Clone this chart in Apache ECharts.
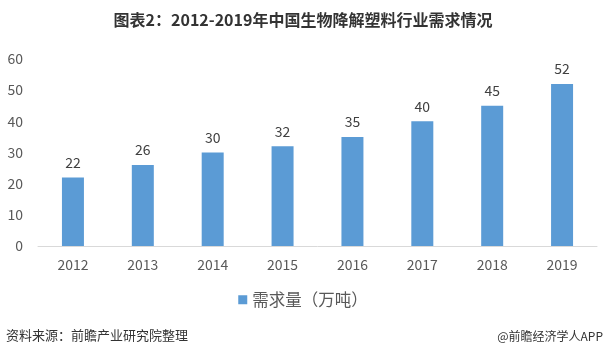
<!DOCTYPE html>
<html><head><meta charset="utf-8">
<script src="https://cdn.jsdelivr.net/npm/echarts@6/dist/echarts.min.js"></script>
<style>html,body{margin:0;padding:0;background:#fff}#c{width:606px;height:359px}</style>
</head><body><div id="c"></div>
<script>
const categories = ['2012','2013','2014','2015','2016','2017','2018','2019'];
const demand = [22, 26, 30, 32, 35, 40, 45, 52];
const seriesName = '需求量（万吨）';
const titleText = '图表2：2012-2019年中国生物降解塑料行业需求情况';
const sourceText = '资料来源：前瞻产业研究院整理';
const brandText = '@前瞻经济学人APP';

const chart = echarts.init(document.getElementById('c'), null, {renderer:'canvas'});
const font = '"Microsoft YaHei","Noto Sans CJK SC",sans-serif';
chart.setOption({
  backgroundColor:'#fff',
  animation:false,
  title:{text:titleText,left:'center',top:7,textStyle:{fontSize:16,fontWeight:'bold',color:'#333',fontFamily:font}},
  legend:{data:[seriesName],bottom:46,left:'center',itemWidth:9,itemHeight:9,icon:'rect',itemGap:4,
    textStyle:{fontSize:16.5,color:'#595959',fontFamily:font}},
  graphic:[
    {type:'text',left:6,top:329,style:{text:sourceText,fill:'#333',font:'13px '+font}},
    {type:'text',right:3,top:330,style:{text:brandText,fill:'#333',font:'12px '+font}}
  ],
  grid:{left:38,right:9,top:59,bottom:113},
  xAxis:{type:'category',data:categories,
    axisLine:{lineStyle:{color:'#d9d9d9'}},axisTick:{show:false},
    axisLabel:{color:'#595959',fontSize:14,margin:12,fontFamily:font}},
  yAxis:{type:'value',min:0,max:60,interval:10,
    axisLine:{show:false},axisTick:{show:false},splitLine:{show:false},
    axisLabel:{color:'#595959',fontSize:14,margin:15,fontFamily:font}},
  series:[{name:seriesName,type:'bar',data:demand,barWidth:22,
    itemStyle:{color:'#5B9BD5'},
    label:{show:true,position:'top',distance:8,color:'#404040',fontSize:14,fontFamily:font}}]
});
</script></body></html>
